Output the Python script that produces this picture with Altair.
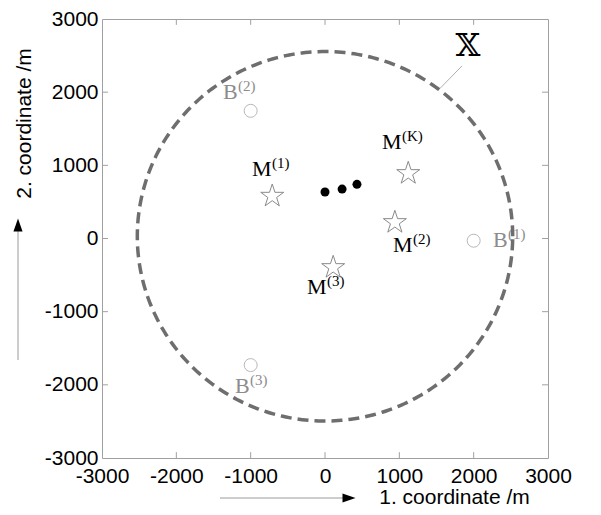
import altair as alt
import numpy as np
import pandas as pd

# ---------------- data ----------------
tick_values = [-3000, -2000, -1000, 0, 1000, 2000, 3000]
inner_ticks = [-2000, -1000, 0, 1000, 2000]

base_x = [2000, -1000, -1000]
base_y = [-30, 1745, -1730]

mobile_x = [-710, 940, 110, 1120]
mobile_y = [580, 220, -395, 890]

dots_x = [0, 230, 430]
dots_y = [635, 675, 740]

m_main = ["M", "M", "M", "M"]
m_sup = ["(1)", "(2)", "(3)", "(K)"]
m_lab_x = [-982, 915, -242, 767]
m_lab_y = [849, -180, -755, 1223]

b_main = ["B", "B", "B"]
b_sup = ["(1)", "(2)", "(3)"]
b_lab_x = [2260, -1372, -1211]
b_lab_y = [-114, 1904, -2118]

region_text = ["𝕏"]
region_x = [1924]
region_y = [2626]
leader_x = [1843, 1547]
leader_y = [2359, 2051]

circle_cx, circle_cy, circle_r = 0, 30, 2525

# ---------------- tables ----------------
theta = np.linspace(0, 2 * np.pi, 361)
circle_df = pd.DataFrame({
    "x": circle_cx + circle_r * np.cos(theta),
    "y": circle_cy + circle_r * np.sin(theta),
    "o": np.arange(len(theta)),
})
base_df = pd.DataFrame({"x": base_x, "y": base_y})
mob_df = pd.DataFrame({"x": mobile_x, "y": mobile_y})
dots_df = pd.DataFrame({"x": dots_x, "y": dots_y})
mlab_df = pd.DataFrame({"x": m_lab_x, "y": m_lab_y, "t": m_main, "s": m_sup})
blab_df = pd.DataFrame({"x": b_lab_x, "y": b_lab_y, "t": b_main, "s": b_sup})
reg_df = pd.DataFrame({"x": region_x, "y": region_y, "t": region_text})
lead_df = pd.DataFrame({"x": leader_x, "y": leader_y, "o": [0, 1]})

TL = 80  # inward tick length in data units
xt_df = pd.DataFrame({
    "x": inner_ticks * 2,
    "y": [-3000] * len(inner_ticks) + [3000] * len(inner_ticks),
    "y2": [-3000 + TL] * len(inner_ticks) + [3000 - TL] * len(inner_ticks),
})
yt_df = pd.DataFrame({
    "y": inner_ticks * 2,
    "x": [-3000] * len(inner_ticks) + [3000] * len(inner_ticks),
    "x2": [-3000 + TL] * len(inner_ticks) + [3000 - TL] * len(inner_ticks),
})

sx = alt.Scale(domain=[-3000, 3000], nice=False, zero=False)
sy = alt.Scale(domain=[-3000, 3000], nice=False, zero=False)

LABEL_EXPR = "'' + datum.value"

X = alt.X("x:Q", scale=sx, axis=alt.Axis(
    values=tick_values, ticks=False, domain=False, grid=False,
    labelExpr=LABEL_EXPR,
    labelFlush=False, labelOverlap=False, labelPadding=7,
    title="1. coordinate /m", titleX=352, titleY=39,
    titleBaseline="middle", titleAlign="center"))
Y = alt.Y("y:Q", scale=sy, axis=alt.Axis(
    values=tick_values, ticks=False, domain=False, grid=False,
    labelExpr=LABEL_EXPR,
    labelFlush=False, labelOverlap=False, labelPadding=4,
    title="2. coordinate /m", titleX=-78, titleY=104, titleAngle=270,
    titleBaseline="middle", titleAlign="center"))

xq = alt.X("x:Q", scale=sx)
yq = alt.Y("y:Q", scale=sy)

GRAY = "#a0a0a0"

xticks = alt.Chart(xt_df).mark_rule(color=GRAY, strokeWidth=1).encode(
    x=X, y=Y, y2="y2:Q")
yticks = alt.Chart(yt_df).mark_rule(color=GRAY, strokeWidth=1).encode(
    x=xq, x2="x2:Q", y=yq)

STAR = ("M0,-1L0.225,-0.309L0.951,-0.309L0.363,0.118L0.588,0.809L0,0.382"
        "L-0.588,0.809L-0.363,0.118L-0.951,-0.309L-0.225,-0.309Z")

stars = alt.Chart(mob_df).mark_point(
    shape=STAR, size=585, filled=False, color="#8a8a8a", strokeWidth=1, opacity=1
).encode(x=xq, y=yq)

bases = alt.Chart(base_df).mark_point(
    shape="circle", size=169, filled=False, color="#b8b8b8", strokeWidth=1, opacity=1
).encode(x=xq, y=yq)

dots = alt.Chart(dots_df).mark_point(
    shape="circle", size=81, filled=True, color="#000000", opacity=1
).encode(x=xq, y=yq)

SERIF = "Liberation Serif"
m_txt = alt.Chart(mlab_df).mark_text(
    font=SERIF, fontSize=22, align="left", baseline="alphabetic", color="#000000"
).encode(x=xq, y=yq, text="t:N")
m_sup_txt = alt.Chart(mlab_df).mark_text(
    font=SERIF, fontSize=15, align="left", baseline="alphabetic", color="#000000",
    dx=20, dy=-8
).encode(x=xq, y=yq, text="s:N")
b_txt = alt.Chart(blab_df).mark_text(
    font=SERIF, fontSize=22, align="left", baseline="alphabetic", color="#8c8c8c"
).encode(x=xq, y=yq, text="t:N")
b_sup_txt = alt.Chart(blab_df).mark_text(
    font=SERIF, fontSize=15, align="left", baseline="alphabetic", color="#8c8c8c",
    dx=15, dy=-8
).encode(x=xq, y=yq, text="s:N")

reg_txt = alt.Chart(reg_df).mark_text(
    font="DejaVu Serif", fontSize=32, align="center", baseline="middle", color="#000000"
).encode(x=xq, y=yq, text="t:N")

leader = alt.Chart(lead_df).mark_line(color="#b0b0b0", strokeWidth=1).encode(
    x=xq, y=yq, order="o:Q")

circle = alt.Chart(circle_df).mark_line(
    color="#6e6e6e", strokeWidth=3.5, strokeDash=[11, 6]
).encode(x=xq, y=yq, order="o:Q")

# axis-title arrows (decoration, pixel positioned relative to the plot)
HEAD_UP = "M0,-1L0.7,1L-0.7,1Z"
HEAD_RIGHT = "M1,0L-1,0.7L-1,-0.7Z"
dummy = pd.DataFrame({"a": [0]})
y_arrow_line = alt.Chart(dummy).mark_rule(color="#bdbdbd", strokeWidth=1.5).encode(
    x=alt.value(-84), y=alt.value(211), y2=alt.value(341))
y_arrow_head = alt.Chart(dummy).mark_point(
    shape=HEAD_UP, size=169, filled=True, color="#000000", opacity=1).encode(
    x=alt.value(-84), y=alt.value(206))
x_arrow_line = alt.Chart(dummy).mark_rule(color="#bdbdbd", strokeWidth=1.5).encode(
    x=alt.value(118), x2=alt.value(241), y=alt.value(479))
x_arrow_head = alt.Chart(dummy).mark_point(
    shape=HEAD_RIGHT, size=169, filled=True, color="#000000", opacity=1).encode(
    x=alt.value(247), y=alt.value(479))

chart = alt.layer(
    xticks, yticks, bases, stars, dots,
    m_txt, m_sup_txt, b_txt, b_sup_txt, reg_txt, leader, circle,
    y_arrow_line, y_arrow_head, x_arrow_line, x_arrow_head,
).properties(
    width=446, height=439,
    autosize=alt.AutoSizeParams(type="none"),
    padding={"left": 94, "top": 11, "right": 40, "bottom": 56},
).configure_view(
    stroke=GRAY, strokeWidth=1
).configure_axis(
    labelFont="Liberation Sans", labelFontSize=21, labelColor="#000000",
    titleFont="Liberation Sans", titleFontSize=21, titleColor="#000000",
    titleFontWeight="normal",
)

chart.save("out.html", embed_options={"renderer": "svg", "actions": False})
